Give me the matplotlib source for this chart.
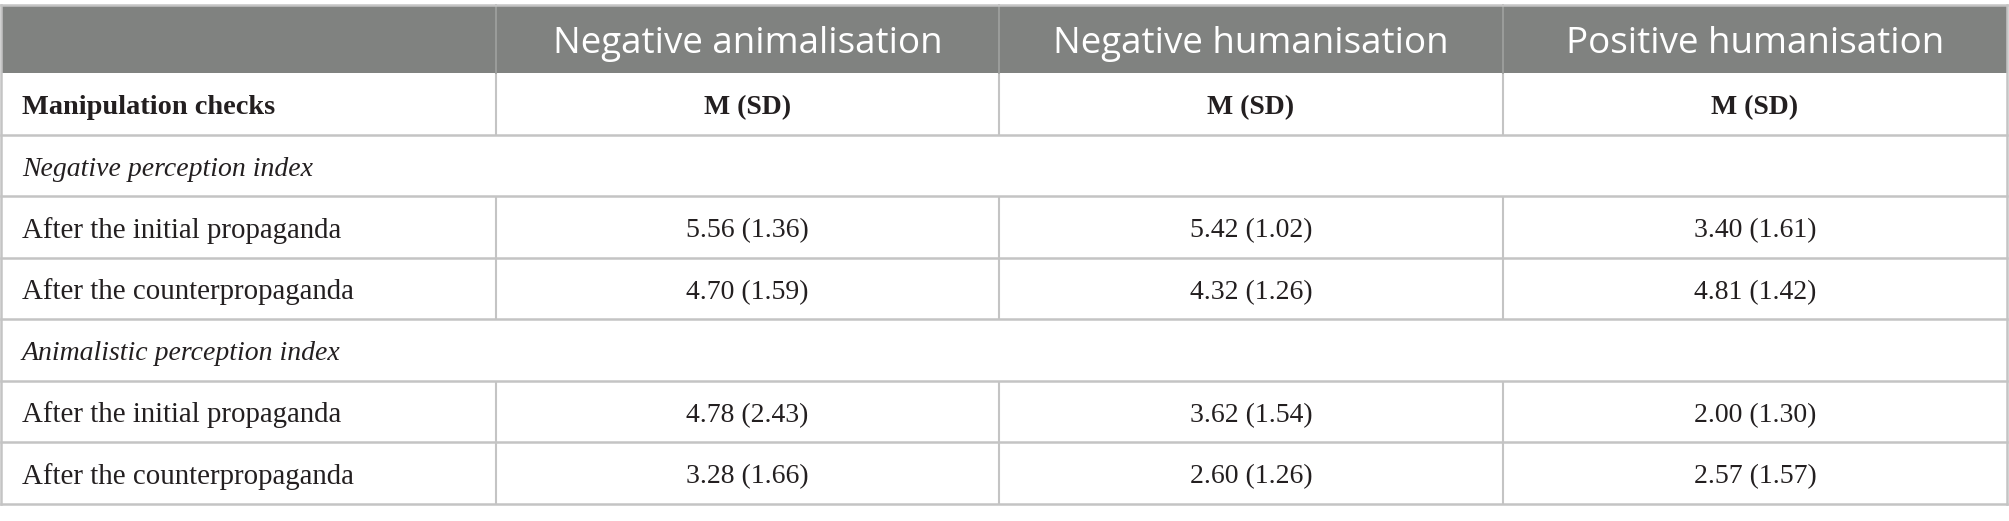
import matplotlib
matplotlib.use("Agg")
import matplotlib.pyplot as plt
from matplotlib.patches import Rectangle

# ── DATA ─────────────────────────────────────────────────────────────────────
conditions = ["Negative animalisation", "Negative humanisation", "Positive humanisation"]
stub_header = "Manipulation checks"
stat_label = "M (SD)"

sections = ["Negative perception index", "Animalistic perception index"]
row_labels = ["After the initial propaganda", "After the counterpropaganda"]

neg_means = [[5.56, 5.42, 3.40], [4.70, 4.32, 4.81]]
neg_sds   = [[1.36, 1.02, 1.61], [1.59, 1.26, 1.42]]
ani_means = [[4.78, 3.62, 2.00], [3.28, 2.60, 2.57]]
ani_sds   = [[2.43, 1.54, 1.30], [1.66, 1.26, 1.57]]

# ── LAYOUT (pixels) ──────────────────────────────────────────────────────────
W, H = 2009, 521
col_edges = [1, 496, 999, 1503, 2007]
top = 5
header_h = 68
row_h = 61.5
grid_col = "#c4c4c4"
head_col = "#808280"
text_col = "#231f20"

fig = plt.figure(figsize=(W / 100, H / 100), dpi=100)
ax = fig.add_axes([0, 0, 1, 1])
ax.set_xlim(0, W)
ax.set_ylim(H, 0)
ax.axis("off")

serif = "Liberation Serif"
sans = "Open Sans"
pad_x = 21
base_off = 41.5   # baseline offset from row top

# header band
ax.add_patch(Rectangle((col_edges[0], top), col_edges[-1] - col_edges[0], header_h,
                       facecolor=head_col, edgecolor="none"))
for i, name in enumerate(conditions):
    xc = (col_edges[i + 1] + col_edges[i + 2]) / 2
    ax.text(xc, top + 48, name, ha="center", va="baseline",
            color="white", fontsize=26.5, family=sans)

# body rows
rows = [("stub", None)]
for sec, means, sds in [(sections[0], neg_means, neg_sds), (sections[1], ani_means, ani_sds)]:
    rows.append(("section", sec))
    for lab, m, s in zip(row_labels, means, sds):
        rows.append(("data", (lab, m, s)))

y = top + header_h
for kind, payload in rows:
    yb = y + base_off
    if kind == "stub":
        ax.text(col_edges[0] + pad_x, yb, stub_header, ha="left", va="baseline",
                fontsize=20.4, weight="bold", family=serif, color=text_col)
        for i in range(3):
            xc = (col_edges[i + 1] + col_edges[i + 2]) / 2
            ax.text(xc, yb, stat_label, ha="center", va="baseline",
                    fontsize=20, weight="bold", family=serif, color=text_col)
    elif kind == "section":
        ax.text(col_edges[0] + pad_x, yb, payload, ha="left", va="baseline",
                fontsize=20, style="italic", family=serif, color=text_col)
    else:
        lab, m, s = payload
        ax.text(col_edges[0] + pad_x, yb, lab, ha="left", va="baseline",
                fontsize=20.8, family=serif, color=text_col)
        for i in range(3):
            xc = (col_edges[i + 1] + col_edges[i + 2]) / 2
            ax.text(xc, yb, f"{m[i]:.2f} ({s[i]:.2f})", ha="center", va="baseline",
                    fontsize=20, family=serif, color=text_col)
    # vertical dividers (not for spanning section rows)
    if kind != "section":
        for xe in col_edges[1:-1]:
            ax.plot([xe, xe], [y, y + row_h], color=grid_col, lw=1.5, solid_capstyle="butt")
    y += row_h
    ax.plot([col_edges[0], col_edges[-1]], [y, y], color=grid_col, lw=1.8)

bottom = y
# header column dividers and outer border
for xe in col_edges[1:-1]:
    ax.plot([xe, xe], [top, top + header_h], color="#a0a2a0", lw=1.2)
ax.plot([col_edges[0], col_edges[-1]], [top, top], color=grid_col, lw=1.8)
ax.plot([col_edges[0], col_edges[0]], [top, bottom], color=grid_col, lw=1.8)
ax.plot([col_edges[-1], col_edges[-1]], [top, bottom], color=grid_col, lw=1.8)

fig.savefig("out.png", dpi=100)
